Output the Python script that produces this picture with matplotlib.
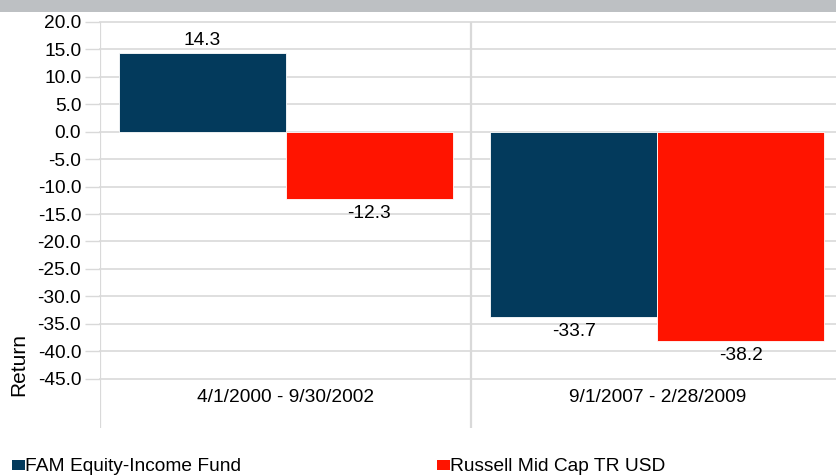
import matplotlib
matplotlib.use("Agg")
import matplotlib.pyplot as plt
from matplotlib.patches import Rectangle

# data
periods = ["4/1/2000 - 9/30/2002", "9/1/2007 - 2/28/2009"]
fund_name = "FAM Equity-Income Fund"
index_name = "Russell Mid Cap TR USD"
fund_returns = [14.3, -33.7]
index_returns = [-12.3, -38.2]
yticks = [20, 15, 10, 5, 0, -5, -10, -15, -20, -25, -30, -35, -40, -45]

navy = "#033A5C"
red = "#FF1400"
gridc = "#D9D9D9"
fs = 13.8

plt.rcParams["font.family"] = ["Liberation Sans", "DejaVu Sans"]

W, H = 837, 475
fig = plt.figure(figsize=(W / 100, H / 100), dpi=100)

# grey band at the top
fig.patches.append(Rectangle((0, 1 - 12 / H), 1, 12 / H, transform=fig.transFigure,
                             facecolor="#BDC0C3", edgecolor="none"))

ax = fig.add_axes([100 / W, (H - 428) / H, 743 / W, 406 / H])
ax.set_xlim(-0.5, 1.5)
ax.set_ylim(-54, 20)

w = 0.45
x = list(range(len(periods)))
b1 = ax.bar([i - w / 2 for i in x], fund_returns, w, color=navy,
            edgecolor="white", linewidth=0.6, zorder=3)
b2 = ax.bar([i + w / 2 for i in x], index_returns, w, color=red,
            edgecolor="white", linewidth=0.6, zorder=3)

for bars, vals in [(b1, fund_returns), (b2, index_returns)]:
    for r, v in zip(bars, vals):
        off = 9.5 if v >= 0 else -10.5
        ax.annotate("%.1f" % v, (r.get_x() + r.get_width() / 2, v),
                    xytext=(0, off), textcoords="offset points",
                    ha="center", va="center", fontsize=fs, zorder=4)

for i, p in enumerate(periods):
    ax.text(i, -48.5, p, ha="center", va="center", fontsize=fs)

ax.set_yticks(yticks)
ax.set_yticklabels(["%.1f" % t for t in yticks], fontsize=fs)
ax.tick_params(axis="y", length=10.5, width=1, color=gridc, pad=3)
ax.set_xticks([])
for t in yticks:
    ax.axhline(t, color=gridc, linewidth=1.2, zorder=1, clip_on=False)
for xv in [-0.5, 0.5, 1.5]:
    ax.axvline(xv, color=gridc, linewidth=1.6, zorder=1)
for s in ax.spines.values():
    s.set_visible(False)

fig.text(19 / W, 1 - 365 / H, "Return", rotation=90, ha="center", va="center",
         fontsize=15)

# legend
fig.patches.append(Rectangle((12 / W, 1 - 470 / H), 13 / W, 10 / H,
                             transform=fig.transFigure, facecolor=navy, edgecolor="none"))
fig.text(25 / W, 1 - 471 / H, fund_name, ha="left", va="baseline", fontsize=fs)
fig.patches.append(Rectangle((437 / W, 1 - 470 / H), 13 / W, 10 / H,
                             transform=fig.transFigure, facecolor=red, edgecolor="none"))
fig.text(450 / W, 1 - 471 / H, index_name, ha="left", va="baseline", fontsize=fs)

fig.savefig("out.png", dpi=100)
